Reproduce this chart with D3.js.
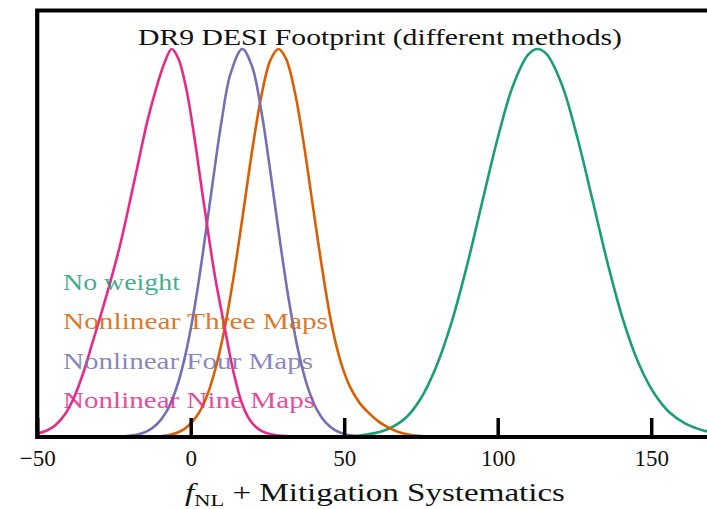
<!DOCTYPE html>
<html>
<head>
<meta charset="utf-8">
<script src="https://cdn.jsdelivr.net/npm/d3@7"></script>
<style>
  html, body { margin: 0; padding: 0; background: #fff; }
  svg { display: block; }
  text { font-family: "Liberation Serif", "DejaVu Serif", serif; }
</style>
</head>
<body>
<svg id="chart" width="707" height="509"></svg>
<script>
// ---- data (normalised density) ----
const seriesNames = ["No weight", "Nonlinear Three Maps", "Nonlinear Four Maps", "Nonlinear Nine Maps"];
const seriesColors = ["#1b9e77", "#d95f02", "#7570b3", "#e7298a"];

const noWeightX = [50, 55, 60, 65, 70, 75, 80, 85, 90, 95, 100, 105, 110, 113, 116, 121, 126, 131, 136, 141, 146, 151, 156, 161, 166, 171, 176, 181];
const noWeightY = [0.001, 0.004, 0.01, 0.023, 0.049, 0.1, 0.182, 0.296, 0.442, 0.607, 0.77, 0.906, 0.986, 1.0, 0.986, 0.906, 0.77, 0.607, 0.442, 0.298, 0.188, 0.112, 0.063, 0.035, 0.019, 0.01, 0.005, 0.002];

const threeMapsX = [-14, -10, -6, -2, 2, 5, 8, 11, 14, 17, 20, 23, 26, 28.6, 31, 34, 37, 40, 43, 46, 49, 52, 55, 58, 61, 64, 67, 70, 74, 80];
const threeMapsY = [0.0, 0.002, 0.007, 0.021, 0.054, 0.1, 0.174, 0.278, 0.414, 0.573, 0.737, 0.878, 0.972, 1.0, 0.976, 0.886, 0.747, 0.584, 0.425, 0.286, 0.19, 0.128, 0.088, 0.062, 0.041, 0.026, 0.015, 0.008, 0.003, 0.0];

const fourMapsX = [-24, -20, -17, -14, -11, -8, -5, -2, 1, 4, 7, 10, 13, 16.8, 20, 23, 26, 29, 32, 35, 38, 41, 44, 47, 50, 53, 56, 60];
const fourMapsY = [0.0, 0.003, 0.007, 0.016, 0.033, 0.064, 0.118, 0.202, 0.322, 0.476, 0.647, 0.811, 0.937, 1.0, 0.955, 0.84, 0.681, 0.509, 0.351, 0.223, 0.131, 0.072, 0.037, 0.018, 0.008, 0.003, 0.001, 0.0];

const nineMapsX = [-56, -50, -47, -44, -41, -38, -35, -32, -29, -26, -23, -20, -17, -14, -11, -8.5, -6.2, -4, -1.5, 1, 3.5, 6, 8, 11, 14, 17, 20, 23, 27, 32, 38];
const nineMapsY = [0.002, 0.009, 0.016, 0.031, 0.058, 0.102, 0.165, 0.243, 0.322, 0.405, 0.495, 0.6, 0.71, 0.818, 0.905, 0.965, 1.0, 0.975, 0.9, 0.783, 0.645, 0.51, 0.41, 0.285, 0.165, 0.08, 0.036, 0.016, 0.006, 0.002, 0.0];

const xTickValues = [-50, 0, 50, 100, 150];
const xDomain = [-50, 175];
const yDomain = [0, 1.1];
const titleText = "DR9 DESI Footprint (different methods)";

// ---- layout ----
const svg = d3.select("#chart");
const plotLeft = 37.2, plotTop = 10.5, plotBottom = 437, plotRight = 37.2 + 225 * 3.07;

const x = d3.scaleLinear().domain(xDomain).range([plotLeft, plotRight]);
const y = d3.scaleLinear().domain(yDomain).range([plotBottom, plotBottom - 1.1 * 388]);

svg.append("defs").append("clipPath").attr("id", "clip")
  .append("rect").attr("x", plotLeft).attr("y", plotTop)
  .attr("width", plotRight - plotLeft).attr("height", plotBottom - plotTop);

const seriesX = [noWeightX, threeMapsX, fourMapsX, nineMapsX];
const seriesY = [noWeightY, threeMapsY, fourMapsY, nineMapsY];

const line = d3.line()
  .x(d => x(d[0]))
  .y(d => y(d[1]))
  .curve(d3.curveCatmullRom.alpha(0.5));

const g = svg.append("g").attr("clip-path", "url(#clip)");
seriesNames.forEach((name, i) => {
  const pts = seriesX[i].map((v, j) => [v, seriesY[i][j]]);
  g.append("path")
    .datum(pts)
    .attr("d", line)
    .attr("fill", "none")
    .attr("stroke", seriesColors[i])
    .attr("stroke-width", 2.6)
    .attr("stroke-linejoin", "round");
});

// legend (text only, coloured)
const legendWidths = [117, 265, 250, 252];
seriesNames.forEach((name, i) => {
  svg.append("text")
    .attr("x", 63)
    .attr("y", 290 + i * 39.3)
    .attr("fill", seriesColors[i])
    .attr("fill-opacity", 0.85)
    .attr("font-size", 23)
    .attr("textLength", legendWidths[i])
    .attr("lengthAdjust", "spacingAndGlyphs")
    .text(name);
});

// x axis (ticks inward)
const xAxis = d3.axisBottom(x).tickValues(xTickValues).tickSize(-19).tickPadding(30)
  .tickFormat(d => d < 0 ? "\u2212" + Math.abs(d) : String(d));
const ax = svg.append("g").attr("transform", `translate(0,${plotBottom})`).call(xAxis);
ax.select(".domain").remove();
ax.selectAll(".tick line").attr("stroke", "#000").attr("stroke-width", 3.5);
ax.selectAll(".tick text")
  .attr("font-size", 23)
  .attr("fill", "#111")
  .attr("font-family", "Liberation Serif, serif")
  .attr("dy", 0)
  .attr("y", 29);

// frame (left, top, bottom spines; right edge beyond the view)
svg.append("path")
  .attr("d", `M${plotRight + 20},${plotTop} L${plotLeft},${plotTop} L${plotLeft},${plotBottom} L${plotRight + 20},${plotBottom}`)
  .attr("fill", "none").attr("stroke", "#000").attr("stroke-width", 4.2);

// title
svg.append("text")
  .attr("x", 380).attr("y", 45)
  .attr("text-anchor", "middle")
  .attr("font-size", 24)
  .attr("fill", "#111")
  .attr("textLength", 484)
  .attr("lengthAdjust", "spacingAndGlyphs")
  .text(titleText);

// x label
const xl = svg.append("text")
  .attr("x", 185).attr("y", 501)
  .attr("font-size", 25)
  .attr("fill", "#111")
  .attr("textLength", 380)
  .attr("lengthAdjust", "spacingAndGlyphs");
xl.append("tspan").attr("font-style", "italic").text("f");
xl.append("tspan").attr("font-size", 17).attr("dy", 5).text("NL");
xl.append("tspan").attr("dy", -5).text(" + Mitigation Systematics");
</script>
</body>
</html>
